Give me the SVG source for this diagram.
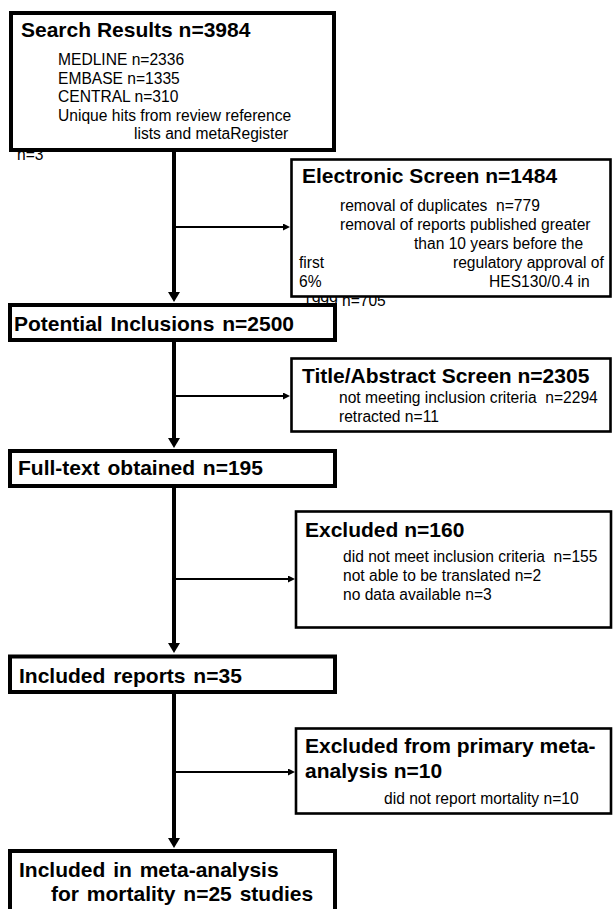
<svg xmlns="http://www.w3.org/2000/svg" width="613" height="909" viewBox="0 0 613 909">
<style>
text{font-family:"Liberation Sans",Arial,sans-serif;fill:#000}
.t{font-size:21px;font-weight:bold}
.tw{word-spacing:2px}
.s{font-size:15.6px}
.thick{fill:#fff;stroke:#000;stroke-width:4}
.thin{fill:#fff;stroke:#000;stroke-width:2.6}
.main{stroke:#000;stroke-width:4;fill:none}
.side{stroke:#000;stroke-width:2;fill:none}
</style>
<defs>
<marker id="big" markerUnits="userSpaceOnUse" markerWidth="10" markerHeight="12" viewBox="0 0 10 12" refX="2" refY="6" orient="auto"><path d="M0,0 L10,6 L0,12 z" fill="#000"/></marker>
<marker id="small" markerUnits="userSpaceOnUse" markerWidth="7" markerHeight="7" viewBox="0 0 7 7" refX="1" refY="3.5" orient="auto"><path d="M0,0 L7,3.5 L0,7 z" fill="#000"/></marker>
</defs>
<rect x="0" y="0" width="613" height="909" fill="#fff"/>

<g id="connectors">
<line class="main" x1="174" y1="150" x2="174" y2="294" marker-end="url(#big)"/>
<line class="main" x1="174" y1="341" x2="174" y2="440" marker-end="url(#big)"/>
<line class="main" x1="174" y1="488" x2="174" y2="645" marker-end="url(#big)"/>
<line class="main" x1="174" y1="694" x2="174" y2="840" marker-end="url(#big)"/>
<line class="side" x1="175" y1="227" x2="284" y2="227" marker-end="url(#small)"/>
<line class="side" x1="175" y1="396" x2="284" y2="396" marker-end="url(#small)"/>
<line class="side" x1="175" y1="579" x2="289" y2="579" marker-end="url(#small)"/>
<line class="side" x1="175" y1="772" x2="289" y2="772" marker-end="url(#small)"/>
</g>

<g id="search-results">
<text class="s" x="17" y="160">n=3</text>
<rect class="thick" x="11" y="13" width="323" height="137"/>
<text class="t" x="21" y="37">Search Results n=3984</text>
<text class="s" x="58" y="65">MEDLINE n=2336</text>
<text class="s" x="58" y="83.5">EMBASE n=1335</text>
<text class="s" x="58" y="102">CENTRAL n=310</text>
<text class="s" x="58" y="120.5">Unique hits from review reference</text>
<text class="s" x="134" y="139">lists and metaRegister</text>
</g>

<g id="electronic-screen">
<text class="s" x="303" y="306">1999</text>
<text class="s" x="342" y="306">n=705</text>
<rect class="thin" x="291.5" y="159.5" width="319" height="137"/>
<text class="t" x="302" y="183">Electronic Screen n=1484</text>
<text class="s" x="340" y="211" xml:space="preserve">removal of duplicates  n=779</text>
<text class="s" x="340" y="230">removal of reports published greater</text>
<text class="s" x="414" y="249">than 10 years before the</text>
<text class="s" x="299" y="268">first</text>
<text class="s" x="453" y="268">regulatory approval of</text>
<text class="s" x="299" y="287">6%</text>
<text class="s" x="489" y="287">HES130/0.4 in</text>
</g>

<g id="potential-inclusions">
<rect class="thick" x="10" y="305" width="325" height="35"/>
<text class="t tw" x="14" y="331">Potential Inclusions n=2500</text>
</g>

<g id="title-abstract-screen">
<rect class="thin" x="291.5" y="358.5" width="319" height="73"/>
<text class="t" x="302" y="383">Title/Abstract Screen n=2305</text>
<text class="s" x="339" y="403" xml:space="preserve">not meeting inclusion criteria  n=2294</text>
<text class="s" x="339" y="422">retracted n=11</text>
</g>

<g id="full-text">
<rect class="thick" x="10" y="451" width="325" height="35"/>
<text class="t tw" x="18" y="475">Full-text obtained n=195</text>
</g>

<g id="excluded-160">
<rect class="thin" x="296" y="511.5" width="315" height="116"/>
<text class="t" x="305" y="537">Excluded n=160</text>
<text class="s" x="343" y="562" xml:space="preserve">did not meet inclusion criteria  n=155</text>
<text class="s" x="343" y="581">not able to be translated n=2</text>
<text class="s" x="343" y="600">no data available n=3</text>
</g>

<g id="included-reports">
<rect class="thick" x="10" y="656.5" width="325" height="35.5"/>
<text class="t tw" x="19" y="683">Included reports n=35</text>
</g>

<g id="excluded-primary">
<rect class="thin" x="296" y="728.5" width="315" height="85"/>
<text class="t" x="305" y="753">Excluded from primary meta-</text>
<text class="t" x="305" y="778">analysis n=10</text>
<text class="s" x="384" y="804">did not report mortality n=10</text>
</g>

<g id="included-meta-analysis">
<rect class="thick" x="10" y="851" width="325" height="80"/>
<text class="t tw" x="19" y="877">Included in meta-analysis</text>
<text class="t tw" x="51" y="901">for mortality n=25 studies</text>
</g>
</svg>
